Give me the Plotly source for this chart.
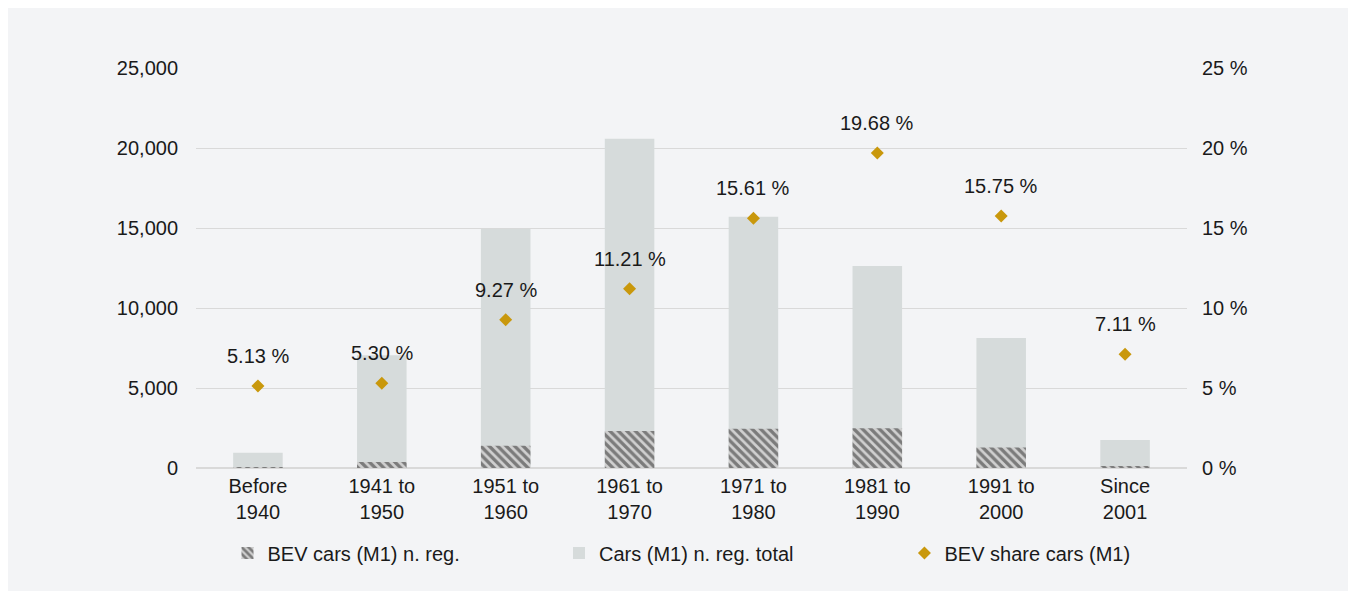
import plotly.graph_objects as go

categories = ['Before<br>1940', '1941 to<br>1950', '1951 to<br>1960', '1961 to<br>1970',
              '1971 to<br>1980', '1981 to<br>1990', '1991 to<br>2000', 'Since<br>2001']
cars_total = [950, 7050, 14950, 20580, 15700, 12620, 8130, 1750]
bev_cars = [50, 370, 1390, 2310, 2450, 2480, 1280, 125]
bev_share = [5.13, 5.30, 9.27, 11.21, 15.61, 19.68, 15.75, 7.11]

FONT = 'Liberation Sans, Arial, sans-serif'
BG = '#f3f4f6'
GOLD = '#c9980c'

fig = go.Figure()
# total drawn first so the BEV bars sit on top of it
fig.add_trace(go.Bar(
    x=categories, y=cars_total, name='Cars (M1) n. reg. total', legend='legend2',
    marker=dict(color='#d6dbdb', line=dict(width=0)),
))
fig.add_trace(go.Bar(
    x=categories, y=bev_cars, name='BEV cars (M1) n. reg.', legend='legend',
    marker=dict(color='#d0d0d0', line=dict(width=0),
                pattern=dict(shape='\\', fgcolor='#262626', bgcolor='#d0d0d0',
                             size=6, solidity=0.55)),
))
fig.add_trace(go.Scatter(
    x=categories, y=bev_share, name='BEV share cars (M1)', yaxis='y2', legend='legend3',
    mode='markers', marker=dict(symbol='diamond', color=GOLD, size=10),
))

for c, s in zip(categories, bev_share):
    fig.add_annotation(x=c, y=s, yref='y2', text=f'{s:.2f} %', showarrow=False,
                       yshift=30, font=dict(size=20, color='#1a1a1a'))

legend_style = dict(orientation='h', xanchor='left', y=-0.2125, yanchor='middle',
                    font=dict(size=20), bgcolor='rgba(0,0,0,0)')

fig.update_layout(
    width=1356, height=591,
    margin=dict(l=188, r=177, t=60, b=131),
    paper_bgcolor=BG, plot_bgcolor=BG,
    font=dict(family=FONT, size=20, color='#1a1a1a'),
    barmode='overlay', bargap=0.6,
    xaxis=dict(showgrid=False, showline=False, ticks='', ticklabelstandoff=4),
    yaxis=dict(range=[0, 25000], dtick=5000, tickformat=',', gridcolor='#d9d9d9',
               gridwidth=1, zeroline=True, zerolinecolor='#d9d9d9', zerolinewidth=2,
               ticklabelstandoff=17, showline=False),
    yaxis2=dict(range=[0, 25], dtick=5, overlaying='y', side='right', showgrid=False,
                ticksuffix=' %', zeroline=False, ticklabelstandoff=14),
    legend=dict(x=0.0318, **legend_style),
    legend2=dict(x=0.3663, **legend_style),
    legend3=dict(x=0.7149, **legend_style),
    showlegend=True,
)

fig.write_html('out.html')
